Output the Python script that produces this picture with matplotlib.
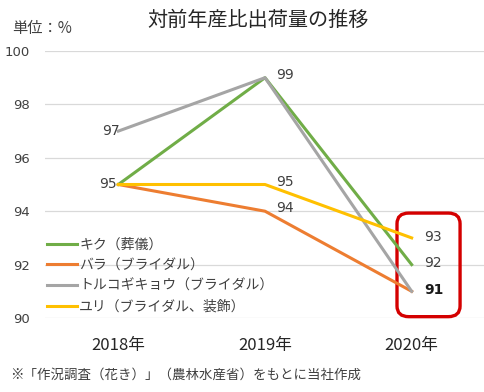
import matplotlib
matplotlib.use('Agg')
from matplotlib import pyplot as plt
from matplotlib.patches import FancyBboxPatch

plt.rcParams['font.family'] = ['Noto Sans CJK JP', 'DejaVu Sans']

years = ['2018年', '2019年', '2020年']
kiku = [95, 99, 92]
bara = [95, 94, 91]
toruko = [97, 99, 91]
yuri = [95, 95, 93]
series_names = ['キク（葬儀）', 'バラ（ブライダル）', 'トルコギキョウ（ブライダル）', 'ユリ（ブライダル、装飾）']
colors = ['#70AD47', '#ED7D31', '#A5A5A5', '#FFC000']

fig = plt.figure(figsize=(4.85, 3.92), dpi=100)
ax = fig.add_axes([45 / 485, 1 - 318 / 392, 440 / 485, 267 / 392])

x = list(range(len(years)))
lines = []
for vals, name, c in zip([kiku, bara, toruko, yuri], series_names, colors):
    ln, = ax.plot(x, vals, color=c, lw=2.2, label=name, solid_joinstyle='round')
    lines.append(ln)

ax.set_xlim(-0.5, 2.5)
ax.set_ylim(90, 100)
ax.set_yticks(range(90, 101, 2))
ax.set_xticks(x)
ax.set_xticklabels(years)
ax.grid(axis='y', color='#D9D9D9', lw=0.9)
ax.set_axisbelow(True)
for s in ax.spines.values():
    s.set_visible(False)
ax.tick_params(axis='y', length=0, pad=11, labelsize=9.5, labelcolor='#404040')
ax.tick_params(axis='x', length=0, pad=14, labelsize=12, labelcolor='#262626')
for lab in ax.get_yticklabels():
    lab.set_fontfamily(['DejaVu Sans'])

# data labels
lab_col = '#404040'
fs = 10
ax.annotate('97', (0, toruko[0]), xytext=(1, 0), textcoords='offset points', ha='right', va='center', fontsize=fs, color=lab_col, family=['DejaVu Sans'])
ax.annotate('95', (0, kiku[0]), xytext=(-1, 0), textcoords='offset points', ha='right', va='center', fontsize=fs, color=lab_col, family=['DejaVu Sans'])
ax.annotate('99', (1, kiku[1]), xytext=(8, 2), textcoords='offset points', ha='left', va='center', fontsize=fs, color=lab_col, family=['DejaVu Sans'])
ax.annotate('95', (1, yuri[1]), xytext=(8, 2), textcoords='offset points', ha='left', va='center', fontsize=fs, color=lab_col, family=['DejaVu Sans'])
ax.annotate('94', (1, bara[1]), xytext=(8, 2), textcoords='offset points', ha='left', va='center', fontsize=fs, color=lab_col, family=['DejaVu Sans'])
ax.annotate('93', (2, yuri[2]), xytext=(9, 1), textcoords='offset points', ha='left', va='center', fontsize=fs, color=lab_col, family=['DejaVu Sans'])
ax.annotate('92', (2, kiku[2]), xytext=(9, 1), textcoords='offset points', ha='left', va='center', fontsize=fs, color=lab_col, family=['DejaVu Sans'])
ax.annotate('91', (2, bara[2]), xytext=(9, 1), textcoords='offset points', ha='left', va='center', fontsize=fs, color='#1a1a1a', weight='bold', family=['DejaVu Sans'])

# red highlight box around 2020 values
box = FancyBboxPatch((1.9, 90.05), 0.43, 3.88, boxstyle='round,pad=0,rounding_size=0.08',
                     transform=ax.transData, fill=False, ec='#D40000', lw=2.4, clip_on=False,
                     mutation_aspect=5)
ax.add_patch(box)

ax.legend(handles=lines, loc='upper left', bbox_to_anchor=(-4 / 440, 0.322), frameon=False,
          fontsize=10, handlelength=2.2, handletextpad=0.15, labelspacing=0.48, borderaxespad=0,
          labelcolor='#404040')

fig.text(258 / 485, 1 - 20 / 392, '対前年産比出荷量の推移', ha='center', va='center', fontsize=14.5, color='#262626')
fig.text(12 / 485, 1 - 28 / 392, '単位：%', ha='left', va='center', fontsize=11, color='#404040')
fig.text(10 / 485, 1 - 375 / 392, '※「作況調査（花き）」（農林水産省）をもとに当社作成', ha='left', va='center', fontsize=9.7, color='#404040')

fig.savefig('out.png', dpi=100)
